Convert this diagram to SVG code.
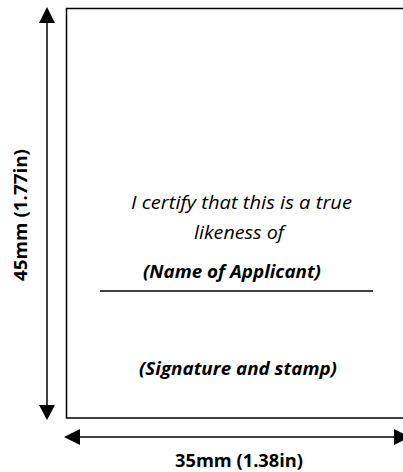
<svg xmlns="http://www.w3.org/2000/svg" width="403" height="472" viewBox="0 0 403 472">
<style>
.t{font-family:"Open Sans","Liberation Sans",sans-serif;fill:#000;text-anchor:middle}
.it{font-style:italic;font-size:17.5px}
.bi{font-style:italic;font-weight:bold;font-size:17px}
.b{font-weight:bold;font-size:17px}
.ln{stroke:#000;stroke-width:1.5;fill:none}
</style>
<g id="photo">
<rect x="66.5" y="8.5" width="360" height="409.5" fill="#fff" stroke="#000" stroke-width="1.5"/>
<text class="t it" x="241.5" y="209" textLength="221" lengthAdjust="spacingAndGlyphs">I certify that this is a true</text>
<text class="t it" x="239" y="239" textLength="90" lengthAdjust="spacingAndGlyphs">likeness of</text>
<text class="t bi" x="232" y="278" textLength="178" lengthAdjust="spacingAndGlyphs">(Name of Applicant)</text>
<line x1="100" y1="291" x2="373" y2="291" stroke="#000" stroke-width="1.5"/>
<text class="t bi" x="238" y="375" textLength="198" lengthAdjust="spacingAndGlyphs">(Signature and stamp)</text>
</g>
<g id="connectors">
<path d="M47,22 L47,407" class="ln"/>
<path d="M47,7 L55,23 L39,23 z" fill="#000"/>
<path d="M47,420 L55,405 L39,405 z" fill="#000"/>
<path d="M80,437 L396,437" class="ln"/>
<path d="M64,437 L80,429 L80,445 z" fill="#000"/>
<path d="M410,437 L394,429 L394,445 z" fill="#000"/>
</g>
<g id="labels">
<text class="t b" x="239" y="467" textLength="128" lengthAdjust="spacingAndGlyphs">35mm (1.38in)</text>
<text class="t b" transform="translate(27,215) rotate(-90)" x="0" y="0" textLength="132" lengthAdjust="spacingAndGlyphs">45mm (1.77in)</text>
</g>
</svg>
